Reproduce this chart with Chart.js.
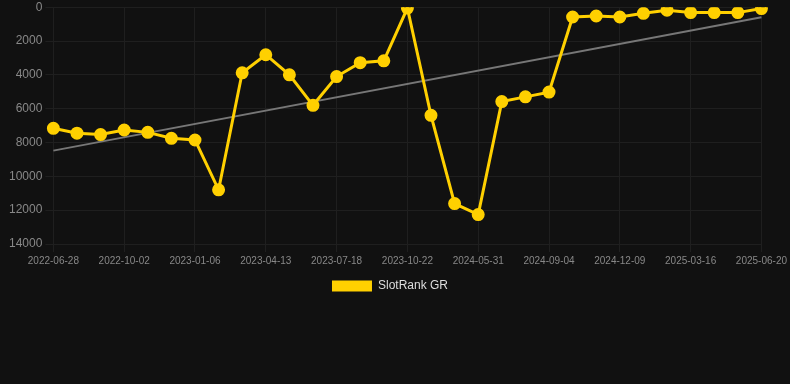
<!DOCTYPE html>
<html>
<head>
<meta charset="utf-8">
<script src="https://cdn.jsdelivr.net/npm/chart.js@4/dist/chart.umd.min.js"></script>
<style>
  html, body { margin: 0; padding: 0; background: #111111; overflow: hidden; }
  #wrap { position: relative; width: 790px; height: 305px; margin-top: -3px; }
</style>
</head>
<body>
<div id="wrap"><canvas id="c"></canvas></div>
<script>
const dates = [
  "2022-06-28","2022-07-28","2022-08-30","2022-10-02","2022-11-03","2022-12-05",
  "2023-01-06","2023-02-08","2023-03-12","2023-04-13","2023-05-15","2023-06-16",
  "2023-07-18","2023-08-19","2023-09-20","2023-10-22","2024-01-08","2024-03-20",
  "2024-05-31","2024-07-02","2024-08-03","2024-09-04","2024-10-06","2024-11-07",
  "2024-12-09","2025-01-10","2025-02-12","2025-03-16","2025-04-17","2025-05-19",
  "2025-06-20"
];
const rankValues = [
  7160, 7450, 7530, 7260, 7400, 7750, 7850, 10800, 3880, 2810, 4000, 5800,
  4100, 3280, 3170, 50, 6390, 11610, 12260, 5580, 5300, 5020, 580, 520,
  580, 360, 180, 320, 320, 320, 80
];
const trendValues = [8480].concat(new Array(29).fill(null), [600]);
const seriesLabel = "SlotRank GR";
const yTicks = [0, 2000, 4000, 6000, 8000, 10000, 12000, 14000];

const legendShift = {
  id: 'legendShift',
  afterLayout(chart) {
    if (chart.legend) { chart.legend.left -= 6; chart.legend.right -= 6; }
  }
};

new Chart(document.getElementById('c'), {
  type: 'line',
  plugins: [legendShift],
  data: {
    labels: dates,
    datasets: [
      {
        label: seriesLabel,
        data: rankValues,
        borderColor: '#FFD000',
        backgroundColor: '#FFD000',
        borderWidth: 3,
        pointRadius: 5,
        pointHoverRadius: 5,
        pointBackgroundColor: '#FFD000',
        pointBorderColor: '#FFD000',
        tension: 0,
        order: 1
      },
      {
        label: 'trend',
        data: trendValues,
        borderColor: '#777777',
        borderWidth: 2,
        pointRadius: 0,
        spanGaps: true,
        fill: false,
        order: 2
      }
    ]
  },
  options: {
    responsive: true,
    maintainAspectRatio: false,
    animation: false,
    layout: { padding: { left: 6, right: 4, top: 0, bottom: 0 } },
    plugins: {
      legend: {
        position: 'bottom',
        labels: {
          color: '#dddddd',
          font: { family: 'Liberation Sans, Arial, sans-serif', size: 12 },
          boxWidth: 40,
          boxHeight: 11,
          generateLabels: (chart) =>
            Chart.defaults.plugins.legend.labels.generateLabels(chart)
              .filter((it) => it.text !== 'trend')
              .map((it) => Object.assign(it, { lineWidth: 0 }))
        }
      },
      tooltip: { enabled: false }
    },
    scales: {
      x: {
        grid: {
          color: (ctx) => (ctx.index % 3 === 0 ? '#1f1f1f' : 'rgba(0,0,0,0)'),
          tickLength: 8
        },
        border: { display: false },
        ticks: {
          color: '#888888',
          font: { family: 'Liberation Sans, Arial, sans-serif', size: 10 },
          maxRotation: 0,
          autoSkip: false,
          callback: function(v, i) { return i % 3 === 0 ? dates[i] : ''; }
        }
      },
      y: {
        reverse: true,
        min: 0,
        max: 14000,
        afterBuildTicks: (axis) => { axis.ticks = yTicks.map(v => ({ value: v })); },
        grid: { color: '#1f1f1f', tickLength: 8 },
        border: { display: false },
        ticks: {
          color: '#888888',
          font: { family: 'Liberation Sans, Arial, sans-serif', size: 12 },
          padding: 3,
          callback: (v) => String(v)
        }
      }
    }
  }
});
</script>
</body>
</html>
